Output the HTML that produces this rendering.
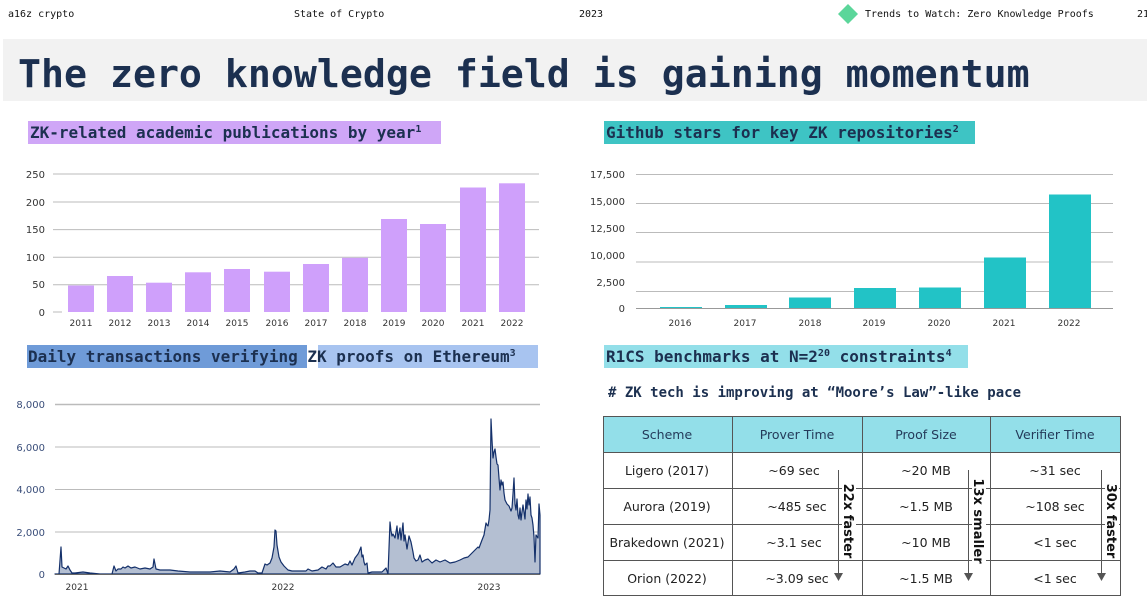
<!DOCTYPE html>
<html><head><meta charset="utf-8"><style>
body{margin:0;width:1147px;height:602px;background:#fff;overflow:hidden;position:relative}
svg{position:absolute;left:0;top:0}
</style></head><body>
<svg width="1147" height="602" viewBox="0 0 1147 602" xmlns="http://www.w3.org/2000/svg">
<g font-family="DejaVu Sans Mono, monospace" font-size="10" fill="#111">
<text x="8" y="17">a16z crypto</text>
<text x="294" y="17">State of Crypto</text>
<text x="579" y="17">2023</text>
<text x="865" y="17">Trends to Watch: Zero Knowledge Proofs</text>
<text x="1137" y="17">21</text>
</g>
<rect x="838" y="4" width="20" height="20" fill="#fff"/>
<polygon points="848,4 858,14 848,24 838,14" fill="#5bd69a"/>
<rect x="3" y="39" width="1144" height="62" fill="#f2f2f2"/>
<text x="18" y="87" font-family="DejaVu Sans Mono, monospace" font-weight="bold" font-size="38.2" fill="#1c3050">The zero knowledge field is gaining momentum</text>

<g font-family="DejaVu Sans Mono, monospace" font-weight="bold" font-size="16" fill="#1c3050">
<rect x="28" y="121" width="413" height="23" fill="#cfa6f7"/>
<text x="30" y="138">ZK-related academic publications by year<tspan font-size="10" dy="-6">1</tspan></text>
<rect x="604" y="121" width="371" height="23" fill="#3ec4c4"/>
<text x="606" y="138">Github stars for key ZK repositories<tspan font-size="10" dy="-6">2</tspan></text>
<rect x="27" y="345" width="280" height="23" fill="#6f9bd8"/>
<rect x="318" y="345" width="220" height="23" fill="#a8c4f0"/>
<text x="28" y="362">Daily transactions verifying  ZK proofs on Ethereum<tspan font-size="10" dy="-6">3</tspan></text>
<rect x="604" y="345" width="364" height="23" fill="#93dfe9"/>
<text x="606" y="362">R1CS benchmarks at N=2<tspan font-size="10" dy="-6">20</tspan><tspan dy="6"> constraints</tspan><tspan font-size="10" dy="-6">4</tspan></text>
<text x="608" y="397" font-size="14">#  ZK tech is improving at “Moore’s Law”-like pace</text>
</g>

<!-- chart 1 -->
<g font-family="DejaVu Sans, sans-serif" font-size="10" fill="#333">
<g stroke="#bbb" stroke-width="1">
<line x1="53" y1="174" x2="539" y2="174"/><line x1="53" y1="202" x2="539" y2="202"/>
<line x1="53" y1="229.6" x2="539" y2="229.6"/><line x1="53" y1="257.2" x2="539" y2="257.2"/>
<line x1="53" y1="284.8" x2="539" y2="284.8"/><line x1="53" y1="312" x2="62" y2="312"/>
</g>
<g text-anchor="end"><text x="45" y="178">250</text><text x="45" y="206">200</text><text x="45" y="233">150</text><text x="45" y="261">100</text><text x="45" y="288">50</text><text x="45" y="316">0</text></g>
<g fill="#cfa0fb">
<rect x="68" y="285.5" width="26" height="26.5"/><rect x="107" y="276" width="26" height="36"/>
<rect x="146" y="282.7" width="26" height="29.3"/><rect x="185" y="272.3" width="26" height="39.7"/>
<rect x="224" y="269" width="26" height="43"/><rect x="264" y="271.7" width="26" height="40.3"/>
<rect x="303" y="264" width="26" height="48"/><rect x="342" y="257.8" width="26" height="54.2"/>
<rect x="381" y="219" width="26" height="93"/><rect x="420" y="224" width="26" height="88"/>
<rect x="460" y="187.5" width="26" height="124.5"/><rect x="499" y="183.3" width="26" height="128.7"/>
</g>
<g text-anchor="middle" font-size="9">
<text x="81" y="326">2011</text><text x="120" y="326">2012</text><text x="159" y="326">2013</text><text x="198" y="326">2014</text><text x="237" y="326">2015</text><text x="277" y="326">2016</text><text x="316" y="326">2017</text><text x="355" y="326">2018</text><text x="394" y="326">2019</text><text x="433" y="326">2020</text><text x="473" y="326">2021</text><text x="512" y="326">2022</text>
</g>
</g>

<!-- chart 2 -->
<g font-family="DejaVu Sans, sans-serif" font-size="10" fill="#333">
<g stroke="#bbb"><line x1="636" y1="174.5" x2="1113" y2="174.5"/><line x1="636" y1="203.5" x2="1113" y2="203.5"/><line x1="636" y1="232.5" x2="1113" y2="232.5"/><line x1="636" y1="262" x2="1113" y2="262"/><line x1="636" y1="291.5" x2="1113" y2="291.5"/></g>
<g fill="#22c3c6">
<rect x="660" y="307" width="42" height="1"/><rect x="725" y="305" width="42" height="3"/>
<rect x="789" y="297.5" width="42" height="10.5"/><rect x="854" y="288" width="42" height="20"/>
<rect x="919" y="287.5" width="42" height="20.5"/><rect x="984" y="257.5" width="42" height="50.5"/>
<rect x="1049" y="194.5" width="42" height="113.5"/>
</g>
<line x1="636" y1="308.5" x2="1113" y2="308.5" stroke="#999"/>
<g text-anchor="end"><text x="625" y="178">17,500</text><text x="625" y="205">15,000</text><text x="625" y="232">12,500</text><text x="625" y="259">10,000</text><text x="625" y="286">2,500</text><text x="625" y="312">0</text></g>
<g text-anchor="middle" font-size="9"><text x="680" y="326">2016</text><text x="745" y="326">2017</text><text x="810" y="326">2018</text><text x="874" y="326">2019</text><text x="939" y="326">2020</text><text x="1004" y="326">2021</text><text x="1069" y="326">2022</text></g>
</g>

<!-- chart 3 -->
<g font-family="DejaVu Sans, sans-serif" font-size="10" fill="#333">
<g stroke="#bbb"><line x1="55" y1="404.5" x2="540" y2="404.5" stroke-width="1.5"/><line x1="55" y1="447" x2="540" y2="447"/><line x1="55" y1="489.5" x2="540" y2="489.5"/><line x1="55" y1="532" x2="540" y2="532"/></g>
<g text-anchor="end" fill="#3a4e7a"><text x="45" y="408">8,000</text><text x="45" y="451">6,000</text><text x="45" y="493">4,000</text><text x="45" y="536">2,000</text><text x="45" y="578">0</text></g>
<polygon fill="#b4bfd2" stroke="#14306a" stroke-width="1.2" stroke-linejoin="round" points="55,574 59,574 61,547 62,567 64,568 66,569 68,566 70,570 72,573 75,573 83,572 90,573 100,574 112,574 114,566 116,571 118,569 121,569 123,567 125,568 128,566 131,568 135,567 140,569 145,568 150,569 153,567 154,559 156,569 160,570 170,570 178,571 190,572 200,572 210,572 220,571 230,572 234,569 236,566 238,573 245,572 250,571 255,571 258,573 262,573 265,564 267,565 270,563 272,558 274,547 275,530 276,531 277,545 279,557 281,562 284,566 288,570 292,571 298,571 302,571 306,571 308,569 312,571 318,570 322,567 326,569 328,566 330,566 333,563 336,567 340,567 345,564 348,565 350,561 352,565 355,558 358,554 359,552 361,547 362,557 363,555 364,562 365,565 367,563 368,573 372,572 378,572 382,572 386,568 388,574 390,522 391,531 392,536 393,534 395,538 397,526 398,539 400,528 401,540 403,523 404,541 405,535 407,549 409,536 411,542 413,552 414,558 416,561 418,560 420,555 422,562 425,560 428,559 432,563 436,560 440,562 445,560 450,563 455,562 460,560 464,558 468,557 472,553 475,550 478,547 479,548 482,540 484,535 486,523 487,525 488,526 489,520 490,510 491,419 492,440 493,458 494,452 495,449 496,457 497,464 498,465 499,478 500,490 501,480 502,485 503,482 504,493 505,500 507,504 509,506 511,511 512,508 513,494 514,478 515,504 516,510 517,499 518,515 519,519 520,508 521,520 522,512 523,505 525,519 526,500 527,509 528,494 529,505 530,497 531,515 532,518 533,525 534,537 535,562 536,535 538,538 539,504 540,515 540,574"/>
<line x1="55" y1="574.5" x2="540" y2="574.5" stroke="#666"/>
<g font-size="9" text-anchor="middle"><text x="77" y="590">2021</text><text x="283" y="590">2022</text><text x="489" y="590">2023</text></g>
</g>

<!-- table -->
<g font-family="DejaVu Sans, sans-serif" font-size="12.5" fill="#243b5a" text-anchor="middle">
<rect x="603" y="416" width="517" height="36" fill="#93dfe9"/>
<g stroke="#555" stroke-width="1" fill="none">
<rect x="603.5" y="416.5" width="517" height="179"/>
<line x1="603" y1="452.5" x2="1120" y2="452.5"/><line x1="603" y1="488.5" x2="1120" y2="488.5"/><line x1="603" y1="524.5" x2="1120" y2="524.5"/><line x1="603" y1="560.5" x2="1120" y2="560.5"/>
<line x1="732.5" y1="416" x2="732.5" y2="596"/><line x1="862.5" y1="416" x2="862.5" y2="596"/><line x1="990.5" y1="416" x2="990.5" y2="596"/>
</g>
<text x="667" y="439">Scheme</text><text x="797" y="439">Prover Time</text><text x="926" y="439">Proof Size</text><text x="1055" y="439">Verifier Time</text>
<g fill="#222">
<text x="667" y="475">Ligero (2017)</text><text x="794" y="475">~69 sec</text><text x="926" y="475">~20 MB</text><text x="1055" y="475">~31 sec</text>
<text x="667" y="511">Aurora (2019)</text><text x="797" y="511">~485 sec</text><text x="926" y="511">~1.5 MB</text><text x="1055" y="511">~108 sec</text>
<text x="667" y="547">Brakedown (2021)</text><text x="794" y="547">~3.1 sec</text><text x="926" y="547">~10 MB</text><text x="1055" y="547">&lt;1 sec</text>
<text x="667" y="583">Orion (2022)</text><text x="797" y="583">~3.09 sec</text><text x="926" y="583">~1.5 MB</text><text x="1055" y="583">&lt;1 sec</text>
</g>
<g stroke="#555" stroke-width="1"><line x1="838.5" y1="470" x2="838.5" y2="575"/><line x1="968.5" y1="470" x2="968.5" y2="575"/><line x1="1101.5" y1="470" x2="1101.5" y2="575"/></g>
<g fill="#555"><polygon points="834,573 843,573 838.5,581"/><polygon points="964,573 973,573 968.5,581"/><polygon points="1097,573 1106,573 1101.5,581"/></g>
<rect x="842" y="486" width="14" height="70" fill="#fff"/><rect x="972" y="480" width="14" height="82" fill="#fff"/><rect x="1105" y="486" width="14" height="70" fill="#fff"/>
<g font-weight="bold" fill="#111" font-size="13">
<text transform="translate(844,521) rotate(90)">22x faster</text>
<text transform="translate(974,521) rotate(90)">13x smaller</text>
<text transform="translate(1107,521) rotate(90)">30x faster</text>
</g>
</g>
</svg>
</body></html>
